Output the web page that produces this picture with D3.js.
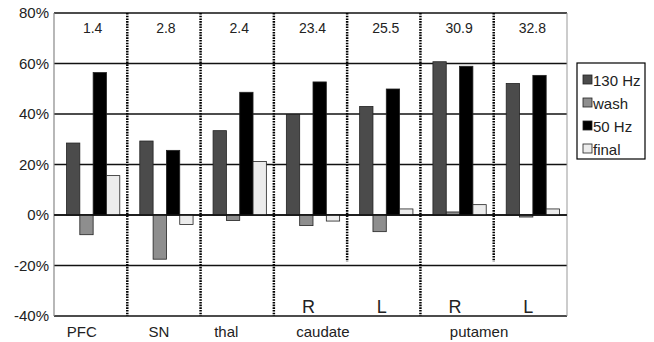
<!DOCTYPE html>
<html>
<head>
<meta charset="utf-8">
<script src="https://cdn.jsdelivr.net/npm/d3@7"></script>
<style>
  body { margin: 0; background: #fff; }
  text { font-family: "Liberation Sans", Arial, sans-serif; }
</style>
</head>
<body>
<svg id="chart" width="654" height="342"></svg>
<script>
// groups along the x axis
const groups = ["PFC", "SN", "thal", "caudate R", "caudate L", "putamen R", "putamen L"];
const topNumbers = ["1.4", "2.8", "2.4", "23.4", "25.5", "30.9", "32.8"];
const series = ["130 Hz", "wash", "50 Hz", "final"];

// percent change values, one array per series
const hz130 = [28.5, 29.3, 33.4, 39.8, 43.0, 60.7, 52.1];
const wash = [-7.8, -17.5, -2.2, -4.2, -6.6, 1.2, -0.8];
const hz50 = [56.4, 25.6, 48.6, 52.7, 49.9, 58.9, 55.3];
const finalV = [15.6, -3.8, 21.2, -2.4, 2.4, 4.1, 2.4];

const yTicks = [80, 60, 40, 20, 0, -20, -40];
const regionLabels = ["PFC", "SN", "thal", "caudate", "putamen"];
const sideLabels = ["", "", "", "R", "L", "R", "L"];

const colors = ["#4b4b4b", "#8e8e8e", "#000000", "#ececec"];
const values = [hz130, wash, hz50, finalV];

const svg = d3.select("#chart");
const margin = {left: 54, right: 567, top: 13, bottom: 316};

const x = d3.scaleBand()
    .domain(groups)
    .range([margin.left, margin.right])
    .padding(0);

const xInner = d3.scaleBand()
    .domain(series)
    .range([12.5, x.bandwidth() - 7.5])
    .padding(0);

const y = d3.scaleLinear()
    .domain([-40, 80])
    .range([margin.bottom, margin.top]);

// gridlines
svg.append("g")
    .selectAll("line")
    .data(yTicks)
    .join("line")
    .attr("x1", margin.left)
    .attr("x2", margin.right)
    .attr("y1", d => y(d))
    .attr("y2", d => y(d))
    .attr("stroke", "#111")
    .attr("stroke-width", 1.4);

// left and right borders
svg.append("line")
    .attr("x1", margin.left).attr("x2", margin.left)
    .attr("y1", y(80)).attr("y2", y(-40))
    .attr("stroke", "#888").attr("stroke-width", 1.2);
svg.append("line")
    .attr("x1", margin.right).attr("x2", margin.right)
    .attr("y1", y(80)).attr("y2", y(-40))
    .attr("stroke", "#999").attr("stroke-width", 1);

// y tick labels
svg.append("g")
    .selectAll("text")
    .data(yTicks)
    .join("text")
    .attr("x", margin.left - 5)
    .attr("y", d => y(d))
    .attr("dy", "0.35em")
    .attr("text-anchor", "end")
    .attr("font-size", 15)
    .attr("fill", "#222")
    .text(d => d + "%");

// bars
const barData = [];
groups.forEach((g, i) => {
    series.forEach((s, j) => {
        barData.push({group: g, series: s, value: values[j][i], color: colors[j]});
    });
});

svg.append("g")
    .selectAll("rect")
    .data(barData)
    .join("rect")
    .attr("x", d => x(d.group) + xInner(d.series))
    .attr("width", xInner.bandwidth())
    .attr("y", d => y(Math.max(0, d.value)))
    .attr("height", d => Math.abs(y(d.value) - y(0)))
    .attr("fill", d => d.color)
    .attr("stroke", "#222")
    .attr("stroke-width", 0.8);

// redraw zero line above bars
svg.append("line")
    .attr("x1", margin.left).attr("x2", margin.right)
    .attr("y1", y(0)).attr("y2", y(0))
    .attr("stroke", "#111").attr("stroke-width", 1.4);

// dotted separators; the ones splitting R/L stop above -20%
const seps = groups.slice(1).map(g => ({
    x: x(g),
    short: g === "caudate L" || g === "putamen L"
}));
svg.append("g")
    .selectAll("line")
    .data(seps)
    .join("line")
    .attr("x1", d => d.x)
    .attr("x2", d => d.x)
    .attr("y1", y(80))
    .attr("y2", d => d.short ? y(-18.5) : y(-40))
    .attr("stroke", "#000")
    .attr("stroke-width", 2.5)
    .attr("stroke-dasharray", "1.6,1.1");

// numbers along the top
svg.append("g")
    .selectAll("text")
    .data(groups)
    .join("text")
    .attr("x", d => x(d) + x.bandwidth() / 2 + 2)
    .attr("y", 33)
    .attr("text-anchor", "middle")
    .attr("font-size", 14)
    .attr("fill", "#222")
    .text((d, i) => topNumbers[i]);

// R / L labels
svg.append("g")
    .selectAll("text")
    .data(groups)
    .join("text")
    .attr("x", d => x(d) + x.bandwidth() * 0.5 - 2)
    .attr("y", 313)
    .attr("text-anchor", "middle")
    .attr("font-size", 18)
    .attr("font-family", "Roboto, sans-serif")
    .attr("fill", "#222")
    .text((d, i) => sideLabels[i]);

// region labels under the axis
const regionX = {
    "PFC": x("PFC") + x.bandwidth() * 0.38,
    "SN": x("SN") + x.bandwidth() * 0.43,
    "thal": x("thal") + x.bandwidth() * 0.35,
    "caudate": x("caudate R") + x.bandwidth() * 0.67,
    "putamen": x("putamen R") + x.bandwidth() * 0.8
};
svg.append("g")
    .selectAll("text")
    .data(regionLabels)
    .join("text")
    .attr("x", d => regionX[d])
    .attr("y", 337)
    .attr("text-anchor", "middle")
    .attr("font-size", 15)
    .attr("fill", "#222")
    .text(d => d);

// legend
const legend = svg.append("g").attr("transform", "translate(577,63)");
legend.append("rect")
    .attr("width", 68).attr("height", 96)
    .attr("fill", "#fff").attr("stroke", "#000").attr("stroke-width", 1.2);
const item = legend.selectAll("g")
    .data(series)
    .join("g")
    .attr("transform", (d, i) => `translate(6,${17 + i * 23})`);
item.append("rect")
    .attr("y", -5).attr("width", 9).attr("height", 9)
    .attr("fill", (d, i) => colors[i])
    .attr("stroke", "#222").attr("stroke-width", 0.8);
item.append("text")
    .attr("x", 10)
    .attr("y", 0)
    .attr("dy", "0.38em")
    .attr("font-size", 15)
    .attr("fill", "#222")
    .text(d => d);
</script>
</body>
</html>
